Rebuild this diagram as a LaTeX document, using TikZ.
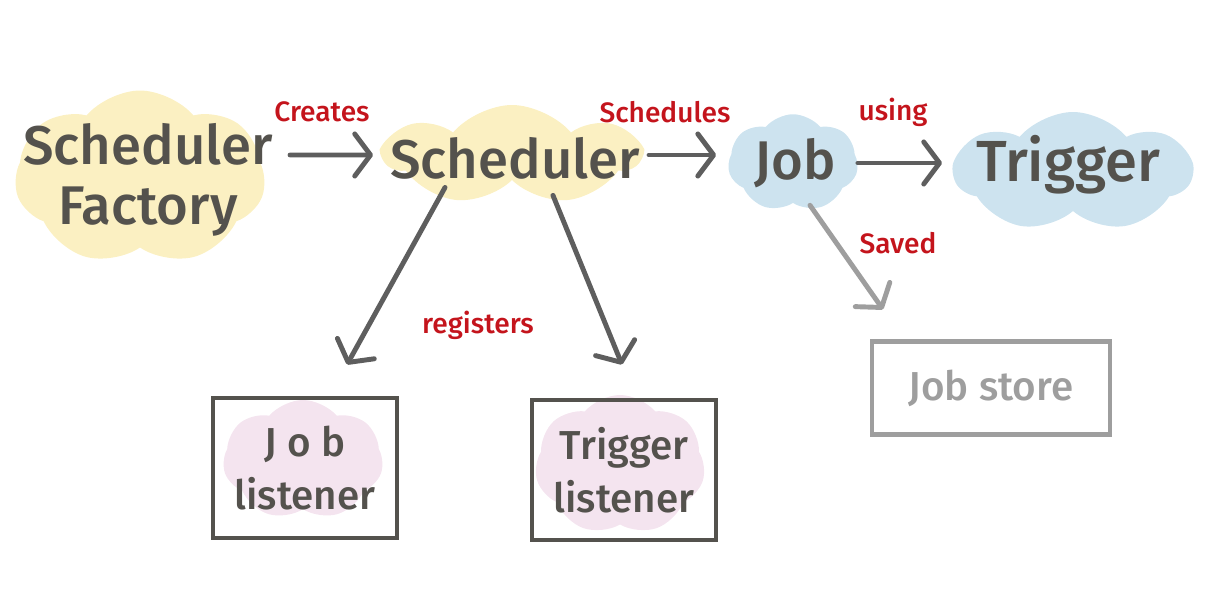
\documentclass[tikz,border=0pt]{standalone}
\usepackage{fontspec}
\setmainfont{Fira Sans}[UprightFont={* Medium}]
\usetikzlibrary{shapes.symbols, arrows.meta, positioning}
\definecolor{ink}{HTML}{54524D}
\definecolor{arrowgray}{HTML}{5E5E5E}
\definecolor{lightgray}{HTML}{9E9E9E}
\definecolor{tagred}{HTML}{C4141C}
\definecolor{sunny}{HTML}{FBF0C2}
\definecolor{sky}{HTML}{CDE3EF}
\definecolor{blush}{HTML}{F4E4EF}

\begin{document}
\begin{tikzpicture}[x=0.02cm, y=-0.02cm,
        >={Straight Barb[length=9pt,width=24pt,line cap=round,line join=round]},
        blob/.style={cloud, cloud puffs=7, cloud puff arc=100, cloud ignores aspect, inner sep=0pt},
        word/.style={text=ink, align=center, font=\fontsize{31}{34}\selectfont},
        small word/.style={text=ink, align=center, font=\fontsize{23}{30}\selectfont},
        tag/.style={text=tagred, font=\fontsize{16}{18}\selectfont},
        link/.style={->, line width=2.8pt, draw=arrowgray, line cap=round},
        frame/.style={draw=ink, line width=2.8pt, minimum width=3.68cm, minimum height=2.8cm}]
      \useasboundingbox (0,0) rectangle (1226,597);
      % coloured blobs behind the words
      \node[blob, fill=sunny, minimum width=5cm, minimum height=3.5cm] (fac-bg) at (140,178) {};
      \node[blob, fill=sunny, minimum width=5.1cm, minimum height=2cm] (sch-bg) at (512,155) {};
      \node[blob, fill=sky, minimum width=2.6cm, minimum height=1.95cm] (job-bg) at (793,163) {};
      \node[blob, fill=sky, minimum width=4.75cm, minimum height=2.4cm] (trig-bg) at (1073,172) {};
      \node[blob, fill=blush, minimum width=3.2cm, minimum height=2.4cm] (jl-bg) at (303,460) {};
      \node[blob, fill=blush, minimum width=3.4cm, minimum height=2.8cm] (tl-bg) at (620,465) {};
      % words
      \node[word] (fac) at (148,180) {Scheduler\\Factory};
      \node[word] (sch) at (515,158) {Scheduler};
      \node[word] (job) at (795,163) {Job};
      \node[word, font=\fontsize{33}{36}\selectfont] (trig) at (1068,165) {Trigger};
      % listener boxes and job store
      \node[frame] (jl) at (305,468) {};
      \node[frame] (tl) at (624,470) {};
      \node[draw=lightgray, line width=2.3pt, minimum width=4.76cm, minimum height=1.86cm] (js) at (991,388) {};
      \node[small word] (jl-txt) at (jl) {J o b\\listener};
      \node[small word] (tl-txt) at (tl) {Trigger\\listener};
      \node[small word, text=lightgray] (js-txt) at (js) {Job store};
      % connectors
      \draw[link, shorten <=0.5cm, shorten >=0.14cm] (fac-bg.east |- sch-bg.center) -- (sch-bg.west);
      \draw[link, shorten <=0.1cm, shorten >=0.24cm] (sch-bg.east) -- (job-bg.west |- sch-bg.east);
      \draw[link, shorten >=0.2cm] (job-bg.east) -- (trig-bg.west |- job-bg.east);
      \draw[link] ([xshift=-1.34cm,yshift=-0.14cm]sch-bg.south) -- ([xshift=0.84cm,yshift=0.62cm]jl.north);
      \draw[link] ([xshift=0.82cm,yshift=-0.3cm]sch-bg.south) -- ([xshift=-0.04cm,yshift=0.66cm]tl.north);
      \draw[link, draw=lightgray] ([xshift=0.34cm,yshift=-0.04cm]job-bg.south) -- ([xshift=-2.16cm,yshift=0.6cm]js.north);
      % labels
      \node[tag] (creates) at (322,112) {Creates};
      \node[tag] (schedules) at (665,112) {Schedules};
      \node[tag] (using) at (893,112) {using};
      \node[tag] (registers) at (478,325) {registers};
      \node[tag] (saved) at (898,243) {Saved};
    \end{tikzpicture}
\end{document}
